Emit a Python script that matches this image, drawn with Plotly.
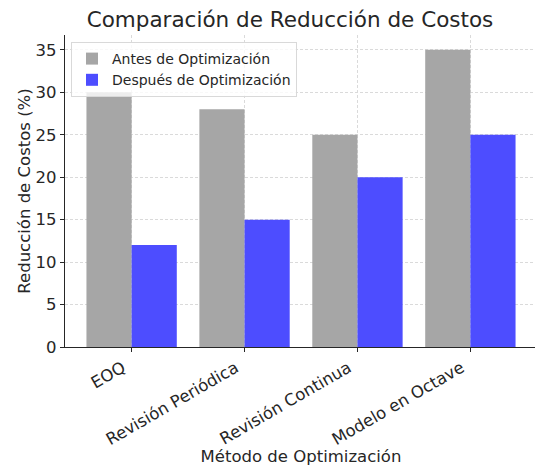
import plotly.graph_objects as go

categories = ["EOQ", "Revisión Periódica", "Revisión Continua", "Modelo en Octave"]
antes = [30, 28, 25, 35]
despues = [12, 15, 20, 25]
y_ticks = [0, 5, 10, 15, 20, 25, 30, 35]

font = "DejaVu Sans"
fig = go.Figure()
fig.add_trace(go.Bar(x=list(range(len(categories))), y=antes, name="Antes de Optimización",
                     marker=dict(color="#a6a6a6", line=dict(width=0))))
fig.add_trace(go.Bar(x=list(range(len(categories))), y=despues, name="Después de Optimización",
                     marker=dict(color="#4d4dff", line=dict(width=0))))

# the page body adds an 8px offset, so the figure is drawn 8px smaller
W, H = 535, 458
L, R, T, B = 57, 6, 27, 119
fig.update_layout(
    width=W, height=H,
    margin=dict(l=L, r=R, t=T, b=B, autoexpand=False),
    paper_bgcolor="white", plot_bgcolor="white",
    barmode="group", bargap=0.2, bargroupgap=0,
    font=dict(family=font, color="#262626", size=14),
    title=dict(text="Comparación de Reducción de Costos", x=282 / W, xanchor="center",
               y=1 - 11 / H, yanchor="middle", yref="container",
               font=dict(size=21.5, color="#262626")),
    legend=dict(x=6 / (W - L - R), y=1 - 7 / (H - T - B), xanchor="left", yanchor="top",
                bgcolor="rgba(255,255,255,0.8)", bordercolor="#d9d9d9", borderwidth=1,
                font=dict(size=14, color="#262626"), traceorder="normal",
                itemwidth=30, tracegroupgap=0),
    xaxis=dict(range=[-0.59, 3.59], tickmode="array", tickvals=list(range(len(categories))),
               ticktext=categories, tickangle=-30, ticks="outside", ticklen=4, tickcolor="#262626",
               ticklabelshift=-9,
               showline=True, linecolor="#262626", linewidth=1.2,
               showgrid=True, gridcolor="#dadada", griddash="3px,2px", gridwidth=0.8,
               layer="above traces", zeroline=False, automargin=False,
               tickfont=dict(size=16.5),
               title=dict(text="Método de Optimización", font=dict(size=16.5), standoff=2)),
    yaxis=dict(range=[0, 36.75], tickmode="array", tickvals=y_ticks,
               ticks="outside", ticklen=4, tickcolor="#262626",
               showline=True, linecolor="#262626", linewidth=1.2,
               showgrid=True, gridcolor="#dadada", griddash="3px,2px", gridwidth=0.8,
               layer="above traces", zeroline=False, automargin=False,
               tickfont=dict(size=16.5),
               title=dict(text="Reducción de Costos (%)", font=dict(size=16.5), standoff=0)),
)
fig.write_html("out.html")
